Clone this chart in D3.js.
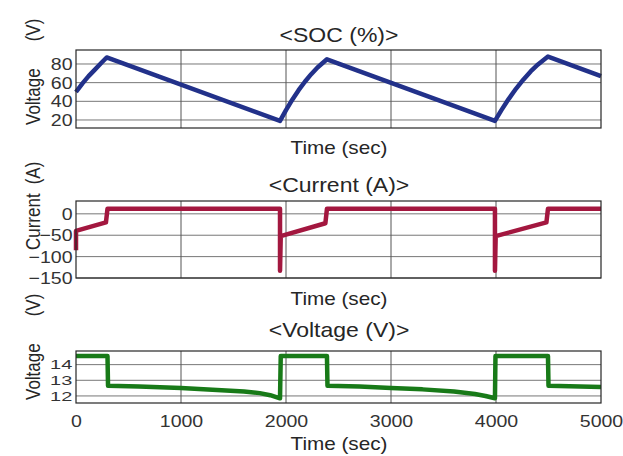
<!DOCTYPE html>
<html>
<head>
<meta charset="utf-8">
<script src="https://cdn.jsdelivr.net/npm/d3@7"></script>
<style>
  body { margin: 0; background: #fff; }
  text { font-family: "Liberation Sans", Arial, sans-serif; fill: #262626; }
</style>
</head>
<body>
<div id="chart"></div>
<script>
// Time ticks shared by all three scopes
const timeTicks = [0, 1000, 2000, 3000, 4000, 5000];

// SOC (%)
const socTime = [0, 60, 120, 180, 240, 292, 1943, 2000, 2060, 2120, 2180, 2240, 2300, 2390,
                 3990, 4050, 4120, 4190, 4260, 4330, 4400, 4495, 5000];
const socValue = [50, 59, 67, 74, 81, 87, 19, 30.6, 41.8, 51.9, 61, 69.1, 76.3, 85,
                  19, 30.3, 42.4, 53.4, 63.2, 72, 79.5, 88, 67];
const socTicks = [20, 40, 60, 80];

// Current (A)
const curTime = [0, 0, 285, 300, 1943, 1943, 1950, 2375, 2390, 3990, 3990, 3997, 4480, 4495, 5000];
const curValue = [-85, -40, -20, 12, 12, -133, -52, -22, 12, 12, -133, -52, -20, 12, 12];
const curTicks = [-150, -100, -50, 0];

// Voltage (V)
const voltTime = [0, 300, 305, 600, 1000, 1300, 1600, 1750, 1850, 1943, 1950, 2390, 2395,
                  2700, 3000, 3300, 3600, 3800, 3900, 3990, 3995, 4495, 4500, 5000];
const voltValue = [14.55, 14.55, 12.65, 12.6, 12.5, 12.4, 12.28, 12.18, 12.05, 11.85, 14.55, 14.55, 12.65,
                   12.6, 12.5, 12.42, 12.28, 12.12, 12.0, 11.85, 14.55, 14.55, 12.65, 12.57];
const voltTicks = [12, 13, 14];

const width = 623, height = 456;
const left = 76, right = 601;
const sx = 1.15; // the original figure is a bit stretched sideways

const svg = d3.select('#chart')
    .append('svg')
    .attr('width', width)
    .attr('height', height);

svg.append('rect').attr('width', width).attr('height', height).attr('fill', '#fff');

const x = d3.scaleLinear().domain([0, 5000]).range([left, right]);

function drawScope(cfg) {
    const y = d3.scaleLinear().domain(cfg.domain).range([cfg.bottom, cfg.top]);
    const g = svg.append('g');

    // grid
    g.selectAll('.hgrid').data(cfg.ticks).enter().append('line')
        .attr('x1', left).attr('x2', right)
        .attr('y1', d => y(d)).attr('y2', d => y(d))
        .style('stroke', '#777').style('stroke-width', 1);
    g.selectAll('.vgrid').data(timeTicks.slice(1, -1)).enter().append('line')
        .attr('x1', d => x(d)).attr('x2', d => x(d))
        .attr('y1', cfg.top).attr('y2', cfg.bottom)
        .style('stroke', '#555').style('stroke-width', 1);

    // y axis labels
    const yAxis = d3.axisLeft(y).tickValues(cfg.ticks).tickFormat(d3.format('d'))
        .tickSize(0).tickPadding(3);
    const ya = g.append('g').attr('transform', `translate(${left},0)`).call(yAxis);
    ya.select('.domain').remove();
    ya.selectAll('text')
        .attr('transform', cfg.tickScale || `scale(${sx},1)`)
        .style('font-size', (cfg.tickFont || 17) + 'px').style('fill', '#333');

    if (cfg.showX) {
        const xAxis = d3.axisBottom(x).tickValues(timeTicks).tickFormat(d3.format('d'))
            .tickSize(0).tickPadding(12);
        const xa = g.append('g').attr('transform', `translate(0,${cfg.bottom})`).call(xAxis);
        xa.select('.domain').remove();
        xa.selectAll('text')
            .attr('transform', `scale(${sx},1)`)
            .style('font-size', '17px').style('fill', '#333');
    }

    // data line
    const pts = cfg.time.map((t, i) => [t, cfg.values[i]]);
    const line = d3.line().x(d => x(d[0])).y(d => y(d[1]));
    g.append('path')
        .datum(pts)
        .attr('d', line)
        .style('fill', 'none')
        .style('stroke', cfg.color)
        .style('stroke-width', 4.5)
        .style('stroke-linejoin', 'round');

    // box
    g.append('rect')
        .attr('x', left).attr('y', cfg.top)
        .attr('width', right - left).attr('height', cfg.bottom - cfg.top)
        .style('fill', 'none').style('stroke', '#262626').style('stroke-width', 1.2);

    // title + x label
    g.append('text')
        .attr('transform', `translate(339,${cfg.titleY}) scale(${sx},1)`)
        .attr('text-anchor', 'middle').style('font-size', '20px').text(cfg.title);
    g.append('text')
        .attr('transform', `translate(339,${cfg.xlabelY}) scale(${sx},1)`)
        .attr('text-anchor', 'middle').style('font-size', '18px').text('Time (sec)');

    // y label in two pieces
    g.append('text')
        .attr('transform', `translate(40,${cfg.ylabelEnd}) scale(${sx},1) rotate(-90)`)
        .attr('text-anchor', 'start').style('font-size', '17px').text(cfg.ylabel);
    g.append('text')
        .attr('transform', `translate(40,${cfg.unitMid}) scale(${sx},1) rotate(-90)`)
        .attr('text-anchor', 'middle').style('font-size', '17px').text(cfg.unit);
}

drawScope({
    top: 50, bottom: 128, domain: [11.4, 95], ticks: socTicks,
    time: socTime, values: socValue, color: '#22318a',
    title: '<SOC (%)>', titleY: 42, xlabelY: 154,
    ylabel: 'Voltage', ylabelEnd: 125, unit: '(V)', unitMid: 30, showX: false
});

drawScope({
    top: 201, bottom: 278, domain: [-150, 30], ticks: curTicks,
    time: curTime, values: curValue, color: '#a3173f',
    title: '<Current (A)>', titleY: 192, xlabelY: 305,
    ylabel: 'Current', ylabelEnd: 250, unit: '(A)', unitMid: 173, showX: false
});

drawScope({
    top: 351, bottom: 403, domain: [11.55, 14.87], ticks: voltTicks,
    time: voltTime, values: voltValue, color: '#187a18',
    title: '<Voltage (V)>', titleY: 337, xlabelY: 450,
    tickFont: 16, tickScale: 'scale(1.25,0.8)',
    ylabel: 'Voltage', ylabelEnd: 400, unit: '(V)', unitMid: 305, showX: true
});
</script>
</body>
</html>
